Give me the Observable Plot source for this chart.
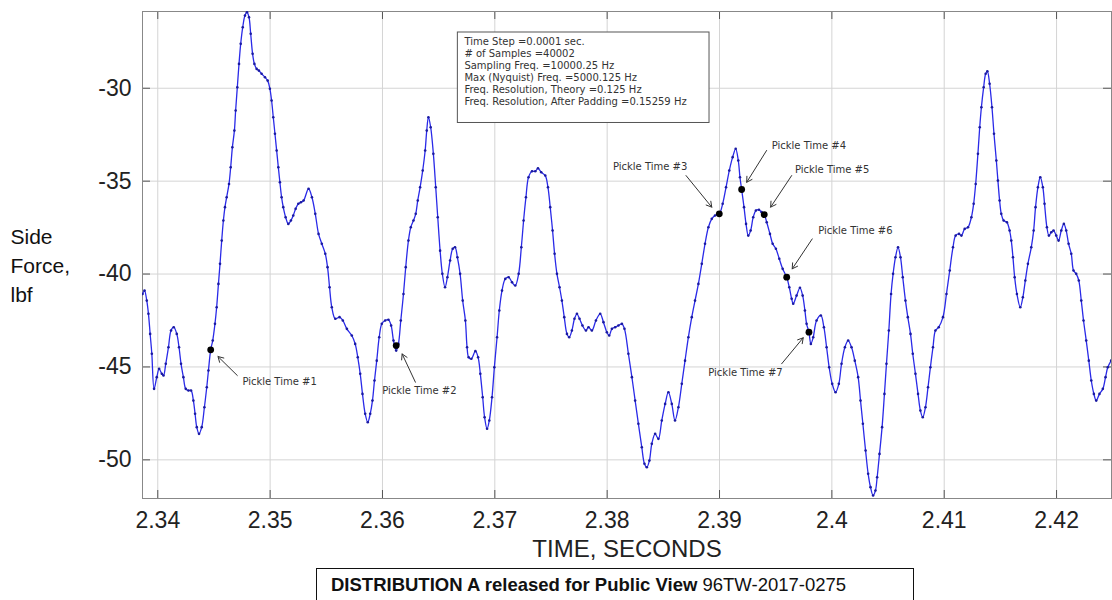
<!DOCTYPE html>
<html><head><meta charset="utf-8">
<script src="https://cdn.jsdelivr.net/npm/d3@7"></script>
<script src="https://cdn.jsdelivr.net/npm/@observablehq/plot@0.6"></script>
<style>
body{margin:0;background:#fff;font-family:"Liberation Sans",Arial,sans-serif;}
#chart{width:1112px;}
#dist{margin-left:316px;margin-top:6px;width:598px;height:40px;border:1.5px solid #111;box-sizing:border-box;padding:5px 0 0 14px;font-size:18.5px;color:#111;white-space:nowrap;}
</style></head><body>
<div id="chart"></div>
<div id="dist"><b>DISTRIBUTION A released for Public View</b> 96TW-2017-0275</div>
<script>
const time = [
2.33864,2.33882,2.33902,2.33917,2.33932,2.33947,2.33967,2.33991,2.34012,2.34036,
2.34051,2.34071,2.34095,2.34118,2.34142,2.34169,2.34189,2.34207,2.34228,2.34249,
2.34273,2.34296,2.34317,2.34332,2.34347,2.34367,2.34391,2.34415,2.34436,2.34451,
2.34471,2.34489,2.34509,2.34524,2.34540,2.34554,2.34569,2.34584,2.34598,2.34613,
2.34634,2.34649,2.34664,2.34682,2.34693,2.34708,2.34723,2.34738,2.34756,2.34776,
2.34794,2.34812,2.34827,2.34844,2.34860,2.34880,2.34900,2.34924,2.34954,2.34978,
2.34998,2.35013,2.35028,2.35043,2.35058,2.35073,2.35087,2.35102,2.35117,2.35138,
2.35162,2.35185,2.35206,2.35227,2.35251,2.35274,2.35298,2.35342,2.35372,2.35402,
2.35431,2.35460,2.35491,2.35511,2.35529,2.35549,2.35580,2.35618,2.35647,2.35683,
2.35727,2.35757,2.35780,2.35802,2.35822,2.35846,2.35869,2.35891,2.35911,2.35929,
2.35949,2.35971,2.35994,2.36024,2.36053,2.36077,2.36098,2.36122,2.36142,2.36163,
2.36187,2.36207,2.36231,2.36252,2.36276,2.36296,2.36314,2.36335,2.36358,2.36380,
2.36394,2.36409,2.36429,2.36453,2.36474,2.36492,2.36513,2.36533,2.36557,2.36578,
2.36602,2.36625,2.36646,2.36667,2.36691,2.36714,2.36738,2.36753,2.36767,2.36791,
2.36827,2.36851,2.36871,2.36892,2.36909,2.36931,2.36951,2.36975,2.36996,2.37020,
2.37040,2.37064,2.37093,2.37123,2.37153,2.37182,2.37212,2.37236,2.37256,2.37277,
2.37300,2.37331,2.37360,2.37384,2.37413,2.37449,2.37473,2.37493,2.37514,2.37532,
2.37553,2.37576,2.37597,2.37618,2.37642,2.37662,2.37686,2.37709,2.37731,2.37754,
2.37780,2.37811,2.37834,2.37864,2.37900,2.37938,2.37967,2.37997,2.38018,2.38042,
2.38071,2.38100,2.38131,2.38154,2.38189,2.38220,2.38249,2.38278,2.38308,2.38332,
2.38353,2.38376,2.38397,2.38427,2.38456,2.38486,2.38516,2.38545,2.38575,2.38604,
2.38634,2.38664,2.38693,2.38723,2.38753,2.38782,2.38812,2.38842,2.38871,2.38901,
2.38931,2.38960,2.38998,2.39028,2.39058,2.39087,2.39117,2.39144,2.39167,2.39182,
2.39197,2.39218,2.39236,2.39256,2.39277,2.39300,2.39324,2.39351,2.39375,2.39398,
2.39420,2.39449,2.39473,2.39502,2.39532,2.39562,2.39598,2.39621,2.39642,2.39656,
2.39686,2.39716,2.39740,2.39760,2.39775,2.39796,2.39813,2.39834,2.39864,2.39902,
2.39929,2.39953,2.39976,2.40003,2.40033,2.40062,2.40086,2.40116,2.40145,2.40175,
2.40204,2.40234,2.40255,2.40276,2.40300,2.40323,2.40344,2.40367,2.40388,2.40403,
2.40424,2.40447,2.40468,2.40486,2.40507,2.40527,2.40545,2.40566,2.40589,2.40611,
2.40631,2.40655,2.40676,2.40700,2.40720,2.40744,2.40767,2.40788,2.40809,2.40833,
2.40856,2.40877,2.40900,2.40922,2.40951,2.40989,2.41020,2.41049,2.41078,2.41102,
2.41132,2.41153,2.41182,2.41212,2.41242,2.41262,2.41280,2.41300,2.41316,2.41331,
2.41351,2.41369,2.41384,2.41404,2.41425,2.41443,2.41464,2.41478,2.41493,2.41508,
2.41529,2.41558,2.41582,2.41597,2.41612,2.41627,2.41647,2.41677,2.41700,2.41722,
2.41745,2.41775,2.41796,2.41813,2.41834,2.41855,2.41878,2.41893,2.41914,2.41932,
2.41953,2.41973,2.41997,2.42018,2.42042,2.42065,2.42086,2.42107,2.42131,2.42151,
2.42175,2.42198,2.42220,2.42240,2.42264,2.42287,2.42309,2.42332,2.42353,2.42382,
2.42412,2.42436,2.42456,2.42486
];
const sideForce = [
-41.07,-40.89,-41.43,-42.14,-43.22,-44.29,-46.18,-45.55,-45.10,-45.37,
-45.46,-44.83,-43.94,-43.04,-42.86,-43.22,-43.94,-44.83,-45.55,-46.18,
-46.27,-46.27,-46.81,-47.52,-48.24,-48.60,-48.24,-47.17,-46.09,-45.19,
-44.08,-43.58,-42.68,-41.79,-40.53,-39.45,-38.20,-37.12,-36.40,-35.87,
-35.15,-34.25,-33.18,-32.28,-31.20,-29.95,-28.69,-27.61,-26.72,-26.09,
-25.91,-26.18,-27.07,-28.15,-28.69,-28.96,-29.05,-29.22,-29.41,-29.59,
-30.03,-30.66,-31.56,-32.45,-33.35,-34.25,-35.06,-35.87,-36.40,-36.94,
-37.30,-37.12,-36.85,-36.49,-36.22,-36.14,-36.04,-35.41,-35.87,-36.76,
-37.84,-38.37,-38.91,-39.63,-40.71,-41.79,-42.41,-42.32,-42.50,-42.95,
-43.31,-43.76,-44.48,-45.37,-46.45,-47.52,-47.98,-47.52,-46.81,-45.73,
-44.66,-43.40,-42.68,-42.50,-42.46,-42.77,-43.58,-44.12,-43.76,-42.50,
-41.07,-39.63,-38.20,-37.48,-37.12,-36.76,-36.04,-35.33,-34.43,-33.35,
-32.28,-31.56,-32.10,-33.53,-35.33,-36.94,-38.74,-39.99,-40.71,-40.17,
-39.27,-38.64,-38.56,-39.10,-39.99,-41.43,-42.50,-43.94,-44.48,-44.56,
-44.15,-44.48,-45.37,-46.63,-47.71,-48.33,-47.88,-46.63,-45.02,-43.40,
-41.96,-40.89,-40.26,-40.17,-40.44,-40.62,-39.99,-38.56,-37.12,-35.87,
-34.79,-34.47,-34.47,-34.31,-34.52,-34.70,-35.33,-36.40,-37.66,-38.91,
-39.99,-40.71,-41.43,-42.32,-43.22,-43.40,-43.04,-42.41,-42.14,-42.41,
-42.77,-43.04,-42.86,-43.04,-42.50,-42.14,-42.59,-43.13,-43.31,-42.95,
-42.86,-42.77,-42.68,-42.95,-44.29,-45.55,-46.81,-48.06,-49.32,-50.21,
-50.40,-50.04,-49.14,-48.60,-48.87,-47.88,-46.99,-46.36,-46.99,-47.88,
-47.17,-45.91,-44.66,-43.40,-42.32,-41.43,-40.53,-39.45,-38.37,-37.48,
-37.03,-36.85,-36.76,-36.22,-35.33,-34.43,-33.71,-33.26,-33.89,-34.79,
-35.45,-36.40,-37.30,-37.93,-37.66,-36.94,-36.58,-36.54,-36.67,-36.80,
-37.21,-37.84,-38.37,-38.64,-39.18,-39.72,-40.17,-40.71,-41.33,-41.60,
-41.16,-40.74,-41.16,-41.96,-42.68,-43.13,-43.76,-43.40,-42.50,-42.23,
-42.86,-43.94,-45.02,-45.91,-46.36,-45.91,-44.83,-43.94,-43.58,-43.94,
-44.66,-45.55,-46.81,-48.06,-49.50,-50.75,-51.47,-51.92,-51.65,-50.94,
-49.68,-48.24,-46.45,-44.83,-43.04,-41.07,-39.99,-39.10,-38.56,-39.10,
-40.17,-41.43,-42.32,-43.22,-44.29,-45.37,-46.45,-47.35,-47.71,-47.17,
-46.09,-45.02,-43.94,-43.04,-42.86,-42.32,-41.07,-39.81,-38.56,-37.93,
-37.84,-37.93,-37.57,-37.48,-36.94,-36.22,-35.15,-33.53,-32.10,-31.02,
-29.95,-29.22,-29.09,-29.76,-31.02,-32.45,-33.89,-34.97,-36.04,-36.76,
-37.12,-37.21,-37.66,-38.20,-39.10,-40.17,-41.07,-41.79,-41.25,-40.35,
-39.45,-38.56,-37.66,-36.40,-35.33,-34.79,-35.33,-36.22,-37.48,-37.93,
-37.75,-37.66,-37.93,-38.20,-37.66,-37.30,-37.66,-38.37,-38.91,-39.81,
-39.99,-40.35,-41.43,-42.50,-43.58,-44.66,-45.73,-46.45,-46.81,-46.45,
-46.18,-45.55,-45.02,-44.66
];
const xTicks = [2.34, 2.35, 2.36, 2.37, 2.38, 2.39, 2.40, 2.41, 2.42];
const yTicks = [-30, -35, -40, -45, -50];
const pickleLabel = ["Pickle Time #1","Pickle Time #2","Pickle Time #3","Pickle Time #4","Pickle Time #5","Pickle Time #6","Pickle Time #7"];
const pickleTime = [2.34471, 2.36122, 2.38998, 2.39197, 2.39398, 2.39598, 2.39796];
const pickleForce = [-44.08, -43.85, -36.76, -35.45, -36.80, -40.17, -43.13];
const labelTime = [2.34753, 2.35997, 2.38051, 2.39464, 2.39671, 2.39878, 2.38900];
const labelForce = [-45.79, -46.27, -34.25, -33.08, -34.39, -37.66, -45.29];
const arrowTailTime = [2.34708, 2.36293, 2.38702, 2.39419, 2.39642, 2.39825, 2.39553];
const arrowTailForce = [-45.46, -45.82, -34.70, -33.35, -34.70, -38.11, -44.83];
const arrowHeadTime = [2.34536, 2.36175, 2.38931, 2.39242, 2.39455, 2.39647, 2.39745];
const arrowHeadForce = [-44.44, -44.30, -36.40, -35.06, -36.40, -39.72, -43.43];
const infoLines = [
  "Time Step =0.0001 sec.",
  "# of Samples =40002",
  "Sampling Freq. =10000.25 Hz",
  "Max (Nyquist) Freq. =5000.125 Hz",
  "Freq. Resolution, Theory =0.125 Hz",
  "Freq. Resolution, After Padding =0.15259 Hz"
];
const infoBoxTime = [2.36671, 2.38911];
const infoBoxForce = [-27.00, -31.87];
const infoTextAt = [2.36729, -27.22];
const xDomain = [2.33864, 2.42489];
const yDomain = [-52.08, -25.87];

const series = time.map((t, i) => ({t, f: sideForce[i]}));
const pickles = pickleLabel.map((label, i) => ({
  label, t: pickleTime[i], f: pickleForce[i],
  lt: labelTime[i], lf: labelForce[i],
  t1: arrowTailTime[i], f1: arrowTailForce[i],
  t2: arrowHeadTime[i], f2: arrowHeadForce[i]
}));
const W = 1112, H = 562, mL = 142, mR = 1, mT = 11, mB = 64;
const pw = W - mL - mR, ph = H - mT - mB;
const tickLen = 8;
const smallFont = "'DejaVu Sans', Verdana, sans-serif";

const chart = Plot.plot({
  width: W, height: H,
  marginLeft: mL, marginRight: mR, marginTop: mT, marginBottom: mB,
  style: {fontFamily: "'Liberation Sans', Arial, sans-serif", background: "#fff", color: "#222", overflow: "visible"},
  x: {domain: xDomain, label: null},
  y: {domain: yDomain, label: null},
  marks: [
    Plot.gridX(xTicks, {stroke: "#d4d4d4", strokeOpacity: 1}),
    Plot.gridY(yTicks, {stroke: "#d4d4d4", strokeOpacity: 1}),
    Plot.tickX(xTicks, {x: d => d, insetTop: ph - tickLen, stroke: "#555"}),
    Plot.tickX(xTicks, {x: d => d, insetBottom: ph - tickLen, stroke: "#555"}),
    Plot.tickY(yTicks, {y: d => d, insetRight: pw - tickLen, stroke: "#555"}),
    Plot.tickY(yTicks, {y: d => d, insetLeft: pw - tickLen, stroke: "#555"}),
    Plot.frame({stroke: "#888"}),
    Plot.axisX({ticks: xTicks, tickSize: 0, tickPadding: 13, fontSize: 23, tickFormat: d => String(+d.toFixed(2))}),
    Plot.axisY({ticks: yTicks, tickSize: 0, tickPadding: 11, fontSize: 23, tickFormat: d => String(d)}),
    Plot.line(series, {x: "t", y: "f", stroke: "#2a2ae8", strokeWidth: 1.3, curve: "catmull-rom", clip: true}),
    Plot.dot(series, {x: "t", y: "f", r: 1.3, fill: "#1a1aa0", stroke: "none", clip: true}),
    Plot.rect([{x1: infoBoxTime[0], x2: infoBoxTime[1], y1: infoBoxForce[0], y2: infoBoxForce[1]}],
      {x1: "x1", x2: "x2", y1: "y1", y2: "y2", fill: "#fff", stroke: "#555", strokeWidth: 1}),
    Plot.text([infoLines.join("\n")], {x: () => infoTextAt[0], y: () => infoTextAt[1], text: d => d,
      textAnchor: "start", lineAnchor: "top", fontSize: 10, lineHeight: 1.2, fill: "#333", fontFamily: smallFont}),
    Plot.arrow(pickles, {x1: "t1", y1: "f1", x2: "t2", y2: "f2", stroke: "#333", strokeWidth: 1, headLength: 9}),
    Plot.dot(pickles, {x: "t", y: "f", r: 3.4, fill: "#000"}),
    Plot.text(pickles, {x: "lt", y: "lf", text: "label", textAnchor: "start", fontSize: 10, fill: "#333", fontFamily: smallFont}),
    Plot.text(["Side\nForce,\nlbf"], {frameAnchor: "left", dx: -132, dy: 9, textAnchor: "start", fontSize: 21, lineHeight: 1.38, fill: "#111"}),
    Plot.text(["TIME, SECONDS"], {frameAnchor: "bottom", dy: 58, fontSize: 24, fill: "#222"})
  ]
});
document.getElementById("chart").appendChild(chart);
</script>
</body></html>
